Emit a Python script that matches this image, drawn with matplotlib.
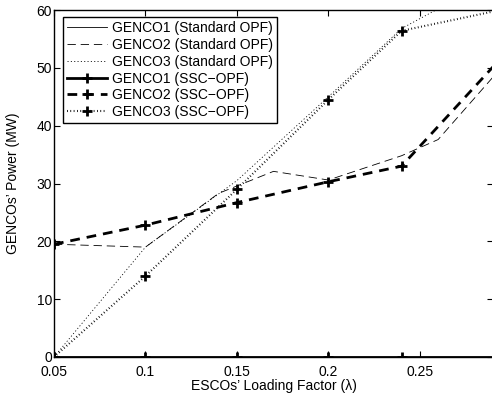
import matplotlib
matplotlib.use("Agg")
import matplotlib.pyplot as plt

plt.rcParams['font.family'] = ['Liberation Sans', 'DejaVu Sans']
plt.rcParams['lines.scale_dashes'] = False

# ---- data ----
lam_ssc = [0.05, 0.10, 0.15, 0.20, 0.24, 0.30]
g1_ssc = [0, 0, 0, 0, 0, 0]
g2_ssc = [19.5, 22.8, 26.7, 30.3, 33.0, 53.6]
g3_ssc = [0, 14.0, 29.0, 44.5, 56.4, 60.4]

lam_std1 = [0.05, 0.30]
g1_std = [0, 0]
lam_std2 = [0.05, 0.10, 0.14, 0.17, 0.20, 0.24, 0.26, 0.30]
g2_std = [19.5, 19.0, 28.3, 32.1, 30.6, 34.8, 37.6, 52.0]
lam_std3 = [0.05, 0.10, 0.15, 0.20, 0.24, 0.26, 0.30]
g3_std = [0, 19.0, 30.5, 45.0, 56.8, 60.2, 63.0]

labels = ["GENCO1 (Standard OPF)", "GENCO2 (Standard OPF)", "GENCO3 (Standard OPF)",
          "GENCO1 (SSC\u2212OPF)", "GENCO2 (SSC\u2212OPF)", "GENCO3 (SSC\u2212OPF)"]
xticks = [0.05, 0.1, 0.15, 0.2, 0.25]
xticklabels = ["0.05", "0.1", "0.15", "0.2", "0.25"]
yticks = [0, 10, 20, 30, 40, 50, 60]

W, H = 492, 396
fig = plt.figure(figsize=(W / 100, H / 100), dpi=100)
ax = fig.add_axes([54 / W, 39 / H, (493 - 54) / W, (357 - 10) / H])

FS = 10
thin = 0.6
thick = 2.0
ax.plot(lam_std1, g1_std, color='black', lw=thin, label=labels[0])
ax.plot(lam_std2, g2_std, color='black', lw=thin, linestyle=(0, (6, 3.5)), label=labels[1])
ax.plot(lam_std3, g3_std, color='black', lw=thin, linestyle=(0, (0.8, 1.6)), label=labels[2])
mk = dict(marker='+', markersize=7, markeredgewidth=2, color='black')
ax.plot(lam_ssc, g1_ssc, lw=thick, linestyle='-', label=labels[3], **mk)
ax.plot(lam_ssc, g2_ssc, lw=thick, linestyle=(0, (7, 5)), label=labels[4], **mk)
ax.plot(lam_ssc, g3_ssc, lw=1.5, linestyle=(0, (0.6, 1.8)), label=labels[5], **mk)

ax.set_xlim(0.05, 0.29)
ax.set_ylim(0, 60)
ax.set_xticks(xticks)
ax.set_xticklabels(xticklabels)
ax.set_yticks(yticks)
ax.tick_params(direction='in', length=4, width=0.8, labelsize=FS, top=True, right=True, pad=6)
ax.tick_params(axis='y', pad=1.5)
for s in ax.spines.values():
    s.set_linewidth(1.0)

ax.set_xlabel("ESCOs\u2019 Loading Factor (\u03bb)", fontsize=FS, labelpad=0)
ax.set_ylabel("GENCOs\u2019 Power (MW)", fontsize=FS)
ax.yaxis.set_label_coords((20 - 54) / (493 - 54), 0.5)

leg = ax.legend(loc='upper left', bbox_to_anchor=((63 - 54) / (493 - 54), (357 - 17) / 347),
                borderaxespad=0, fontsize=FS, handlelength=2.9, handletextpad=0.35,
                labelspacing=0.2, borderpad=0.3, fancybox=False, framealpha=1,
                edgecolor='black', numpoints=1)
leg.get_frame().set_linewidth(1.0)

fig.savefig("out.png", dpi=100)
